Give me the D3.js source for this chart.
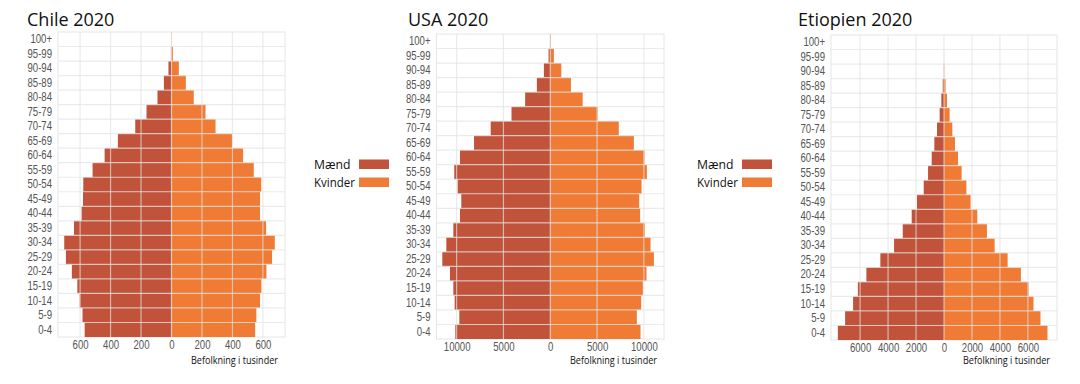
<!DOCTYPE html>
<html><head><meta charset="utf-8">
<script src="https://cdn.jsdelivr.net/npm/d3@7"></script>
<style>body{margin:0;background:#fff}svg{display:block}</style>
</head><body>
<svg id="c" width="1080" height="384"></svg>
<script>
// Age groups, bottom to top
const ageGroups = ["0-4","5-9","10-14","15-19","20-24","25-29","30-34","35-39","40-44","45-49","50-54","55-59","60-64","65-69","70-74","75-79","80-84","85-89","90-94","95-99","100+"];

const chileMale   = [570,584,603,618,654,693,704,640,590,581,579,518,439,352,238,164,92,50,20,4,1];
const chileFemale = [549,557,581,590,623,660,678,621,581,581,589,540,470,398,289,223,146,94,48,9,2];

const usaMale   = [10140,9710,10210,10350,10710,11530,11100,10350,9640,9500,9890,10250,9640,8140,6360,4140,2680,1430,680,180,30];
const usaFemale = [9640,9250,9710,9890,10280,11070,10710,10100,9600,9500,9750,10320,10070,8930,7320,5070,3460,2210,1180,390,70];

const ethMale   = [7590,7070,6500,6160,5550,4550,3570,2950,2310,1930,1450,1140,880,690,500,310,190,90,15,4,1];
const ethFemale = [7400,6900,6400,6050,5500,4550,3620,3070,2380,1900,1600,1260,1000,785,595,400,215,110,25,6,1];

const chileTicks = [-600,-400,-200,0,200,400,600];
const usaTicks = [-10000,-5000,0,5000,10000];
const ethTicks = [-6000,-4000,-2000,0,2000,4000,6000];

const titles = ["Chile 2020","USA 2020","Etiopien 2020"];
const seriesNames = ["Mænd","Kvinder"];
const axisTitle = "Befolkning i tusinder";

const colMale = "#c0533a", colFemale = "#ef7b35";
const narrow = "'Liberation Sans',Arial,sans-serif";

const svg = d3.select("#c");

function panel(cfg){
  const g = svg.append("g");
  const x = d3.scaleLinear().domain([-cfg.max, cfg.max]).range([cfg.x0, cfg.x1]);
  const y = d3.scaleBand().domain(ageGroups.slice().reverse()).range([cfg.y0, cfg.y1]).padding(0);
  g.append("rect").attr("x",cfg.x0).attr("y",cfg.y0).attr("width",cfg.x1-cfg.x0).attr("height",cfg.y1-cfg.y0)
    .attr("fill","#fff").attr("stroke","#e6e6e6").attr("stroke-width",1);
  g.selectAll(".m").data(ageGroups).join("rect")
    .attr("x",(d,i)=>x(-cfg.male[i])).attr("width",(d,i)=>x(0)-x(-cfg.male[i]))
    .attr("y",d=>y(d)).attr("height",y.bandwidth()).attr("fill",colMale);
  g.selectAll(".f").data(ageGroups).join("rect")
    .attr("x",x(0)).attr("width",(d,i)=>x(cfg.female[i])-x(0))
    .attr("y",d=>y(d)).attr("height",y.bandwidth()).attr("fill",colFemale);
  const grid = g.append("g").attr("stroke","#e2e2e2").attr("stroke-opacity",0.7).attr("stroke-width",1.2);
  cfg.ticks.forEach(t=>{
    grid.append("line").attr("x1",x(t)).attr("x2",x(t)).attr("y1",cfg.y0).attr("y2",cfg.y1);
  });
  ageGroups.forEach((a,i)=>{
    if(i===0) return;
    grid.append("line").attr("x1",cfg.x0).attr("x2",cfg.x1).attr("y1",y(a)+y.bandwidth()).attr("y2",y(a)+y.bandwidth());
  });
  const ya = d3.axisLeft(y).tickSize(0).tickPadding(7.5);
  const yg = g.append("g").attr("transform",`translate(${cfg.x0},0)`).call(ya);
  yg.select(".domain").remove();
  yg.selectAll("text").attr("font-family",narrow).attr("font-size",12).attr("fill","#555")
    .attr("transform","scale(0.8,1)");
  const xa = d3.axisBottom(x).tickValues(cfg.ticks).tickSize(0).tickPadding(3).tickFormat(d=>Math.abs(d));
  const xg = g.append("g").attr("transform",`translate(0,${cfg.y1})`).call(xa);
  xg.select(".domain").remove();
  xg.selectAll("text").attr("font-family",narrow).attr("font-size",12).attr("fill","#555")
    .attr("transform","scale(0.8,1)");
  g.append("text").attr("x",cfg.tx).attr("y",25.5).text(cfg.title)
    .attr("font-family","'Open Sans',sans-serif").attr("font-size",18).attr("fill","#111");
  g.append("text").attr("x",cfg.x1-7).attr("y",364).attr("text-anchor","end").text(axisTitle)
    .attr("font-family","'Open Sans',sans-serif").attr("font-size",11).attr("fill","#111")
    .attr("textLength",87).attr("lengthAdjust","spacingAndGlyphs");
}

panel({x0:58,x1:285,y0:32,y1:337,max:745,male:chileMale,female:chileFemale,ticks:chileTicks,title:titles[0],tx:27});
panel({x0:436.5,x1:664,y0:34,y1:339,max:12150,male:usaMale,female:usaFemale,ticks:usaTicks,title:titles[1],tx:408});
panel({x0:831,x1:1057,y0:35,y1:340,max:8080,male:ethMale,female:ethFemale,ticks:ethTicks,title:titles[2],tx:798});

function legend(lx, sx){
  const lg = svg.append("g");
  const lens = [36.5, 41];
  [colMale,colFemale].forEach((c,i)=>{
    lg.append("text").attr("x",lx).attr("y",169+i*17.5).text(seriesNames[i])
      .attr("font-family","'Open Sans',sans-serif").attr("font-size",12.5).attr("fill","#111")
      .attr("textLength",lens[i]).attr("lengthAdjust","spacingAndGlyphs");
    lg.append("rect").attr("x",sx).attr("y",159.5+i*18).attr("width",30).attr("height",9.5).attr("fill",c);
  });
}
legend(314,359);
legend(697,742);
</script>
</body></html>
